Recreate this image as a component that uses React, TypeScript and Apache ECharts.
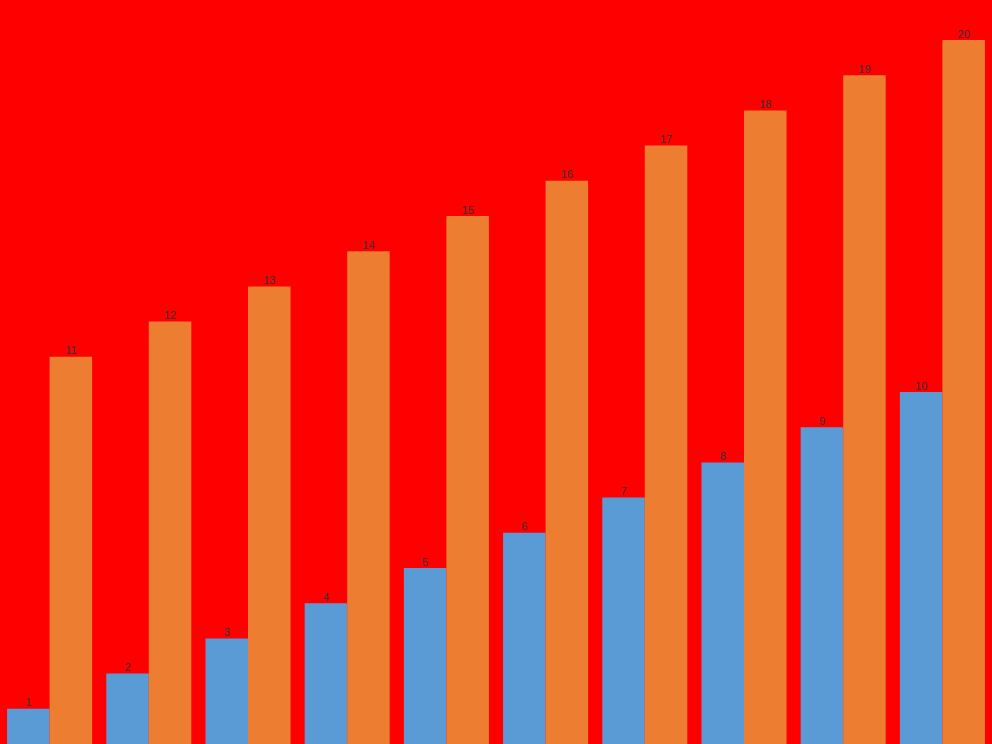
import React, { useEffect, useRef } from "react";
import * as echarts from "echarts";

const categories = ["1", "2", "3", "4", "5", "6", "7", "8", "9", "10"];
const seriesA = [1, 2, 3, 4, 5, 6, 7, 8, 9, 10];
const seriesB = [11, 12, 13, 14, 15, 16, 17, 18, 19, 20];

export default function App() {
  const ref = useRef<HTMLDivElement>(null);
  useEffect(() => {
    const chart = echarts.init(ref.current!, null, { renderer: "svg" });
    chart.setOption({
      animation: false,
      backgroundColor: "#FF0000",
      grid: { left: 0, right: 0, top: 40, bottom: 0, containLabel: false },
      xAxis: {
        type: "category",
        data: categories,
        show: false,
      },
      yAxis: { type: "value", min: 0, max: 20, show: false },
      series: [
        {
          type: "bar",
          data: seriesA,
          barGap: "0%",
          barCategoryGap: "14.3%",
          itemStyle: { color: "#5B9BD5" },
          label: { show: true, position: "top", color: "#333", fontSize: 11, distance: 1 },
        },
        {
          type: "bar",
          data: seriesB,
          barGap: "0%",
          barCategoryGap: "14.3%",
          itemStyle: { color: "#ED7D31" },
          label: { show: true, position: "top", color: "#333", fontSize: 11, distance: 1 },
        },
      ],
    });
    return () => chart.dispose();
  }, []);
  return (
    <div
      ref={ref}
      style={{ position: "fixed", left: 0, top: 0, width: 992, height: 744 }}
    />
  );
}
